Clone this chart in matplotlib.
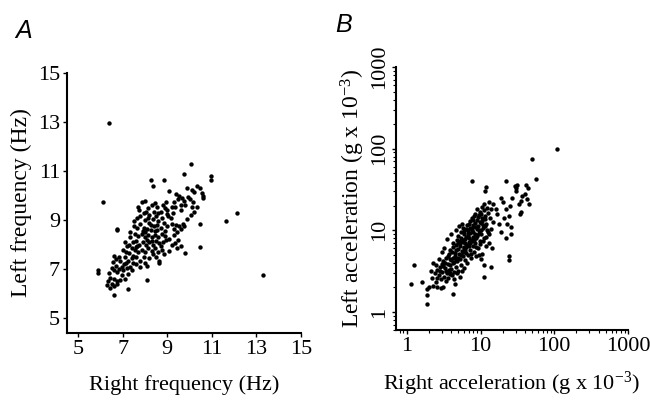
import matplotlib
matplotlib.use("Agg")
import matplotlib.pyplot as plt
from matplotlib.ticker import LogLocator, NullFormatter

plt.rcParams['font.family'] = ['Liberation Serif', 'DejaVu Serif']
plt.rcParams['mathtext.fontset'] = 'custom'
plt.rcParams['mathtext.rm'] = 'Liberation Serif'
plt.rcParams['mathtext.it'] = 'Liberation Serif:italic'

# panel A : frequency (Hz)
freq_right = [
    6.4, 6.1, 5.88, 5.88, 13.3, 11.65, 12.15, 10.95, 10.95, 10.05, 9.75, 8.85, 8.25, 8.35, 10.45, 9.8, 8.1, 7.25, 6.6, 6.75,
    6.75, 8.65, 8.65, 10.45,
    9.1, 9.4, 9.55, 9.65, 9.9, 10.1, 10.2, 10.35, 10.45, 10.55, 10.6, 10.6, 10.15, 9.95, 9.75, 9.5, 9.3, 9.2, 9.6, 10.1,
    10.2, 10.05, 9.9, 9.7, 9.55, 9.4, 9.6, 9.75, 9.45, 9.3, 9.5, 9.6, 9.45, 9.2, 9.1, 9.3, 9.0, 9.15, 9.25, 9.0,
    8.9, 8.8, 8.95, 8.7, 8.55, 8.45, 8.3, 8.2, 8.0, 7.85, 7.75, 7.7, 7.95,
    8.0, 8.2, 8.35, 8.5, 8.6, 8.75, 8.85, 8.7, 8.55, 8.4, 8.25, 8.1, 7.95, 7.8, 7.65, 7.5, 7.55, 7.7, 7.85, 8.0,
    8.15, 8.3, 8.45, 8.6, 8.75, 8.9, 8.95, 8.8, 8.65, 8.5, 8.35, 8.2, 8.05, 7.9, 7.75, 7.6, 7.45, 7.35, 7.3, 7.4,
    7.55, 7.7, 7.85, 8.0, 8.15, 8.3, 8.45, 8.6, 8.75, 8.85, 8.5, 8.2, 7.95, 7.8, 7.6, 7.45, 7.3, 7.15, 7.0, 7.1,
    7.25, 7.45, 7.6, 7.8, 8.0, 8.1, 7.35, 7.2, 7.05, 6.9, 6.85, 6.7, 6.6, 6.55, 6.7, 6.85, 7.0, 7.25, 7.4, 6.95,
    6.75, 6.6, 6.5, 6.4, 6.45, 6.6, 6.75, 6.9, 7.1, 6.5, 6.35, 6.3, 6.45, 6.6, 6.75, 7.2, 7.1, 7.35, 7.5, 7.65,
    7.8, 8.05, 8.15, 8.4, 8.6, 9.05, 9.2, 8.3, 8.45, 8.1, 7.9, 8.55, 8.15, 8.9, 7.65, 7.4, 7.15, 6.95, 8.35, 8.7,
    9.1, 9.35, 8.25, 8.0, 7.6, 9.35, 9.6, 9.8, 10.0, 10.35, 9.0,
]
freq_left = [
    12.95, 9.75, 6.95, 6.85, 6.75, 8.98, 9.3, 10.8, 10.62, 11.3, 10.9, 10.65, 10.65, 10.4, 7.9, 7.65, 6.55, 6.2, 5.95, 8.65,
    8.58, 7.25, 7.32, 8.85,
    10.2, 10.05, 10.0, 9.9, 10.3, 10.25, 10.15, 10.4, 10.3, 10.1, 9.9, 10.0, 9.75, 9.95, 9.8, 9.85, 9.75, 9.55, 9.6, 9.55,
    9.35, 9.2, 9.05, 8.85, 8.75, 8.8, 8.65, 8.75, 8.5, 8.4, 8.2, 7.95, 7.85, 8.0, 8.25, 8.65, 8.75, 9.1, 9.3, 9.4,
    9.5, 9.6, 9.75, 9.35, 9.55, 9.7, 9.6, 9.2, 9.8, 9.75, 9.4, 9.55, 9.3,
    9.0, 8.9, 9.05, 9.15, 8.95, 9.1, 8.9, 8.7, 8.6, 8.75, 8.6, 8.65, 8.7, 8.85, 8.7, 8.75, 8.45, 8.35, 8.45, 8.3,
    8.4, 8.3, 8.4, 8.3, 8.45, 8.55, 8.2, 8.1, 8.05, 8.15, 8.0, 8.1, 8.0, 8.1, 8.0, 8.15, 8.1, 8.3, 8.0, 7.85,
    7.8, 7.7, 7.8, 7.7, 7.85, 7.75, 7.85, 7.7, 7.8, 7.6, 7.5, 7.45, 7.5, 7.35, 7.5, 7.55, 7.65, 7.7, 7.8, 7.5,
    7.35, 7.25, 7.2, 7.1, 7.25, 7.15, 7.1, 7.05, 7.2, 7.35, 7.5, 7.4, 7.55, 7.3, 7.15, 7.0, 6.95, 6.8, 6.95, 6.75,
    6.9, 6.95, 7.05, 6.85, 6.65, 6.6, 6.5, 6.55, 6.6, 6.4, 6.5, 6.35, 6.25, 6.3, 6.4, 7.95, 8.1, 8.5, 8.95, 9.1,
    9.15, 9.35, 9.5, 9.35, 9.3, 9.15, 8.85, 8.15, 8.55, 8.2, 8.55, 8.8, 9.1, 8.35, 7.95, 7.45, 7.25, 7.1, 7.6, 7.95,
    7.75, 8.05, 8.8, 8.5, 7.9, 9.55, 9.4, 9.6, 9.85, 9.55, 9.25,
]

# panel B : acceleration (g x 10^-3)
acc_right = [
    110, 50, 57, 7.7, 22, 1.15, 1.25, 1.9, 1.85, 1.9, 4.3, 1.6, 24, 24, 11, 14, 12, 11.5, 13,
    29, 31, 30, 42, 44, 40, 43, 45, 35, 33, 35, 34, 27, 25, 22, 20, 19, 21, 18, 23, 26, 24, 17, 15, 16, 19, 22, 26, 30, 37,
    2.2, 2.4, 2.5, 2.6, 2.7, 2.8, 2.9, 3.0, 3.1, 3.2, 3.3, 3.4, 3.5, 3.6, 3.7, 3.8, 3.9, 4.0, 4.1, 4.2,
    4.3, 4.4, 4.5, 4.6, 4.7, 4.8, 4.9, 5.0, 5.1, 5.2, 5.3, 5.4, 5.5, 5.6, 5.7, 5.8, 5.9, 6.0, 6.1, 6.2,
    6.3, 6.4, 6.5, 6.7, 6.8, 6.9, 7.0, 7.2, 7.3, 7.4, 7.5, 7.6, 7.8, 7.9, 8.0, 8.2, 8.4, 8.5, 8.7, 8.8,
    9.0, 9.2, 9.3, 9.5, 9.7, 9.8, 10.0, 10.2, 10.4, 10.6, 10.8, 11.0, 11.2, 11.5, 11.8, 12.0, 12.3, 12.6, 13.0, 13.5,
    14.0, 14.5, 15.0,
    2.0, 2.1, 2.3, 2.6, 2.9, 2.3, 2.5, 2.7, 3.0, 3.2, 3.4, 3.6, 3.9, 4.1, 4.4, 4.8, 5.2, 5.6, 6.0, 6.5,
    3.5, 4.0, 4.6, 5.1, 5.6, 6.0, 3.3, 3.7, 4.2, 4.5, 4.9, 5.3, 5.8, 6.3, 6.8, 7.3, 7.8, 8.3, 8.9, 9.4,
    9.9, 10.5, 11.3, 9.0, 8.5, 3.9, 4.3, 4.7, 5.0, 5.5, 6.6, 7.1, 7.6, 8.2, 2.8, 3.1, 3.4, 3.8, 4.0, 4.4,
    4.6, 5.0, 5.4, 5.7, 6.1, 6.4, 6.9, 7.3, 7.7, 8.1, 8.6, 9.1, 9.6, 10.1, 10.7, 11.4, 12.1, 5.2, 6.2, 7.0,
    8.0, 9.3, 10.3, 11.6, 12.8, 13.8, 7.4, 8.6, 9.8, 10.9, 12.0, 13.2, 10.0, 11.0, 9.5, 10.5, 9.0, 8.0, 6.8, 5.8,
    5.9, 4.8, 3.6, 3.0, 2.6, 4.5, 3.1,
]
acc_left = [
    100, 75, 42, 40, 40, 2.2, 3.8, 1.25, 1.6, 1.9, 1.65, 2.35, 4.8, 4.3, 2.7, 3.6, 34, 30, 22,
    35, 36, 33, 36, 33, 28, 24, 21, 23, 21, 17, 16, 25, 20, 18, 22, 25, 14, 12, 12, 11, 15, 16, 21, 18, 9.5, 8, 9, 30, 26,
    2.6, 3.0, 2.3, 3.3, 2.8, 3.6, 2.5, 3.1, 4.2, 2.7, 3.5, 4.6, 3.0, 3.9, 5.2, 2.9, 4.4, 3.4, 5.5, 4.0,
    6.2, 3.1, 4.8, 3.6, 5.8, 4.2, 7.0, 3.2, 5.1, 6.5, 4.5, 8.0, 3.8, 5.6, 7.2, 4.9, 9.0, 6.0, 4.3, 7.8,
    5.3, 10.5, 6.6, 8.6, 5.0, 7.1, 12.0, 9.4, 5.8, 7.6, 4.6, 10.0, 6.4, 8.2, 13.5, 5.5, 9.0, 7.0, 11.0, 4.8,
    8.5, 14.5, 6.0, 10.0, 12.5, 7.5, 16.0, 9.0, 5.2, 13.0, 11.5, 17.5, 8.0, 15.0, 6.5, 12.0, 19.0, 9.5, 7.0, 14.0,
    10.5, 6.0, 12.5,
    2.0, 3.2, 2.1, 2.0, 1.95, 4.0, 3.8, 4.4, 5.5, 6.0, 2.4, 2.6, 3.0, 2.8, 2.5, 3.0, 2.7, 3.2, 3.5, 4.0,
    7.8, 9.0, 10.0, 11.2, 12.0, 9.8, 4.0, 3.3, 4.6, 5.3, 5.9, 6.9, 7.6, 8.2, 9.2, 10.8, 11.6, 12.2, 13.2, 15.5,
    17.0, 19.5, 21.0, 18.5, 16.0, 5.8, 7.0, 6.6, 8.6, 9.5, 11.5, 13.0, 14.2, 15.0, 3.2, 3.7, 3.2, 3.8, 4.3, 4.1,
    4.5, 4.6, 5.0, 5.4, 5.8, 6.2, 6.4, 6.9, 7.3, 7.7, 8.1, 8.8, 9.4, 10.2, 10.8, 11.2, 10.0, 7.5, 6.9, 8.0,
    9.6, 11.2, 12.4, 13.6, 16.5, 18.0, 5.2, 6.2, 6.8, 7.4, 8.4, 9.0, 4.5, 3.8, 5.0, 14.0, 10.5, 11.0, 10.2, 10.8,
    6.3, 7.6, 4.8, 3.9, 2.6, 2.2, 2.0,
]

freq_ticks = [5, 7, 9, 11, 13, 15]
acc_ticks = [1, 10, 100, 1000]
acc_ticklabels = ['1', '10', '100', '1000']

fig = plt.figure(figsize=(6.5, 4.04), dpi=100)

# ---- A
ax1 = fig.add_axes([0.103, 0.176, 0.360, 0.643])
ax1.scatter(freq_right, freq_left, s=10, c='black', linewidths=0)
ax1.set_xlim(4.5, 15)
ax1.set_ylim(4.4, 15)
ax1.set_xticks(freq_ticks)
ax1.set_yticks(freq_ticks)
ax1.set_xlabel('Right frequency (Hz)', fontsize=16, labelpad=12)
ax1.set_ylabel('Left frequency (Hz)', fontsize=17, labelpad=4)

# ---- B
ax2 = fig.add_axes([0.609, 0.183, 0.357, 0.651])
ax2.scatter(acc_right, acc_left, s=10, c='black', linewidths=0)
ax2.set_xscale('log')
ax2.set_yscale('log')
ax2.set_xlim(0.71, 1000)
ax2.set_ylim(0.6, 1000)
ax2.set_xticks(acc_ticks)
ax2.set_xticklabels(acc_ticklabels)
ax2.set_yticks(acc_ticks)
ax2.set_yticklabels(acc_ticklabels, rotation=90, va='center')
for axis in (ax2.xaxis, ax2.yaxis):
    axis.set_minor_locator(LogLocator(base=10, subs=range(2, 10)))
    axis.set_minor_formatter(NullFormatter())
ax2.set_xlabel('Right acceleration (g x 10$^{\\mathrm{-3}}$)', fontsize=16, labelpad=10)
ax2.set_ylabel('Left acceleration (g x 10$^{\\mathrm{-3}}$)', fontsize=17, labelpad=2)

for ax in (ax1, ax2):
    ax.spines['top'].set_visible(False)
    ax.spines['right'].set_visible(False)
    ax.spines['left'].set_linewidth(1.5)
    ax.spines['bottom'].set_linewidth(1.5)
    ax.tick_params(which='major', length=3, width=1, labelsize=16, pad=2)
    ax.tick_params(which='minor', length=2, width=0.8)

fig.text(0.023, 0.905, 'A', fontsize=18, style='italic', family='Liberation Sans')
fig.text(0.515, 0.92, 'B', fontsize=18, style='italic', family='Liberation Sans')

fig.savefig('out.png', dpi=100)
